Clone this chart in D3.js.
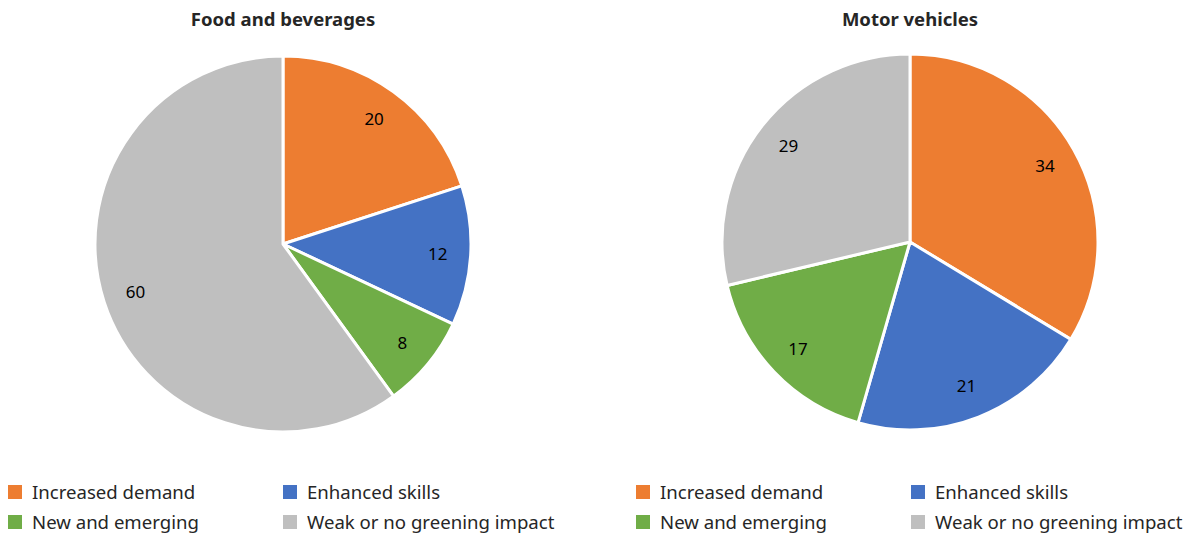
<!DOCTYPE html>
<html>
<head>
<meta charset="utf-8">
<script src="https://cdn.jsdelivr.net/npm/d3@7"></script>
<style>
  body { margin: 0; background: #fff; }
  text { font-family: "Noto Sans", sans-serif; }
</style>
</head>
<body>
<svg id="chart" width="1190" height="534"></svg>
<script>
// categories and values
const categories = ["Increased demand", "Enhanced skills", "New and emerging", "Weak or no greening impact"]
const colours = ["#ED7D31", "#4472C4", "#70AD47", "#BFBFBF"]
const foodValues = [20, 12, 8, 60]
const motorValues = [34, 21, 17, 29]
const titles = ["Food and beverages", "Motor vehicles"]

const svg = d3.select("#chart")
const radius = 188

const colour = d3.scaleOrdinal().domain(categories).range(colours)

const pie = d3.pie().sort(null).value(d => d.value)
const arc = d3.arc().innerRadius(0).outerRadius(radius)
const labelArc = d3.arc().innerRadius(155).outerRadius(155)

function drawPie(cx, cy, title, values) {
    let g = svg.append("g").attr("transform", "translate(" + cx + "," + cy + ")")
    let data = categories.map((c, i) => ({ cat: c, value: values[i] }))

    g.selectAll("path")
        .data(pie(data))
        .enter().append("path")
        .attr("d", arc)
        .attr("fill", d => colour(d.data.cat))
        .attr("stroke", "white")
        .attr("stroke-width", 3)
        .attr("stroke-linejoin", "round")

    g.selectAll("text.lbl")
        .data(pie(data))
        .enter().append("text")
        .attr("class", "lbl")
        .attr("transform", d => "translate(" + labelArc.centroid(d) + ")")
        .attr("text-anchor", "middle")
        .attr("dy", "0.35em")
        .style("font-size", "17px")
        .style("fill", "#000")
        .text(d => d.data.value)

    svg.append("text")
        .attr("x", cx)
        .attr("y", 26)
        .attr("text-anchor", "middle")
        .style("font-size", "18.5px")
        .style("font-weight", "bold")
        .style("fill", "#262626")
        .text(title)
}

drawPie(283, 244, titles[0], foodValues)
drawPie(910, 242, titles[1], motorValues)

function drawLegend(x0) {
    let lg = svg.append("g").attr("transform", "translate(" + x0 + ",0)")
    let items = lg.selectAll("g")
        .data(categories)
        .enter().append("g")
        .attr("transform", (d, i) => "translate(" + (i % 2) * 275 + "," + (485 + Math.floor(i / 2) * 30) + ")")
    items.append("rect")
        .attr("width", 14)
        .attr("height", 14)
        .attr("fill", d => colour(d))
    items.append("text")
        .attr("x", 24)
        .attr("y", 7)
        .attr("dy", "0.35em")
        .style("font-size", "18.6px")
        .style("fill", "#262626")
        .text(d => d)
}

drawLegend(8)
drawLegend(636)
</script>
</body>
</html>
